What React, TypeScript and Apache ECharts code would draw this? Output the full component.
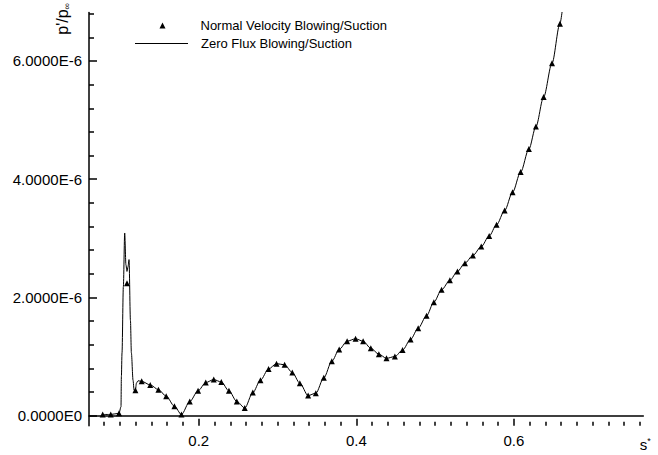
import React, { useEffect, useRef } from "react";
import * as echarts from "echarts";

// Normal Velocity Blowing/Suction (triangles)
const sTri = [
  0.0781, 0.0883, 0.0988, 0.1089, 0.1196, 0.1276, 0.1384, 0.1488, 0.1587, 0.1691,
  0.178, 0.1886, 0.1991, 0.2089, 0.219, 0.2286, 0.2383, 0.2483, 0.2584, 0.2686,
  0.2783, 0.2886, 0.2987, 0.309, 0.3187, 0.3283, 0.3388, 0.3486, 0.3587, 0.3689,
  0.3782, 0.3883, 0.399, 0.4086, 0.4184, 0.4286, 0.4383, 0.4489, 0.4587, 0.4688,
  0.4785, 0.4891, 0.4984, 0.5082, 0.5187, 0.5283, 0.5378, 0.5479, 0.5585, 0.5686,
  0.578, 0.5882, 0.5983, 0.6085, 0.619, 0.6279, 0.6377, 0.6483, 0.6584,
];
const pTri = [
  0.02e-6, 0.02e-6, 0.04e-6, 2.24e-6, 0.43e-6, 0.58e-6, 0.52e-6, 0.44e-6, 0.33e-6, 0.16e-6,
  0.02e-6, 0.24e-6, 0.42e-6, 0.56e-6, 0.61e-6, 0.57e-6, 0.42e-6, 0.24e-6, 0.13e-6, 0.39e-6,
  0.6e-6, 0.79e-6, 0.88e-6, 0.86e-6, 0.73e-6, 0.55e-6, 0.34e-6, 0.38e-6, 0.64e-6, 0.92e-6,
  1.12e-6, 1.26e-6, 1.3e-6, 1.26e-6, 1.14e-6, 1.04e-6, 0.97e-6, 1.0e-6, 1.11e-6, 1.29e-6,
  1.48e-6, 1.69e-6, 1.92e-6, 2.13e-6, 2.29e-6, 2.44e-6, 2.58e-6, 2.71e-6, 2.86e-6, 3.04e-6,
  3.23e-6, 3.47e-6, 3.78e-6, 4.12e-6, 4.51e-6, 4.89e-6, 5.39e-6, 5.96e-6, 6.63e-6,
];

// Zero Flux Blowing/Suction (line)
const sLine = [
  0.0781, 0.0883, 0.0988, 0.1013, 0.1018, 0.1026, 0.1043, 0.106, 0.1076, 0.1089,
  0.1102, 0.1115, 0.1133, 0.1145, 0.1166, 0.1179, 0.1196, 0.1209, 0.1229, 0.1276,
  0.1384, 0.1488, 0.1587, 0.1691, 0.178, 0.1886, 0.1991, 0.2089, 0.219, 0.2286,
  0.2383, 0.2483, 0.2584, 0.2686, 0.2783, 0.2886, 0.2987, 0.309, 0.3187, 0.3283,
  0.3388, 0.3486, 0.3587, 0.3689, 0.3782, 0.3883, 0.399, 0.4086, 0.4184, 0.4286,
  0.4383, 0.4489, 0.4587, 0.4688, 0.4785, 0.4891, 0.4984, 0.5082, 0.5187, 0.5283,
  0.5378, 0.5479, 0.5585, 0.5686, 0.578, 0.5882, 0.5983, 0.6085, 0.619, 0.6279,
  0.6377, 0.6483, 0.6584, 0.6612,
];
const pLine = [
  0.02e-6, 0.02e-6, 0.04e-6, 0.15e-6, 0.66e-6, 1.06e-6, 2.18e-6, 3.09e-6, 2.55e-6, 2.44e-6,
  2.52e-6, 2.64e-6, 1.61e-6, 1.06e-6, 0.6e-6, 0.43e-6, 0.43e-6, 0.55e-6, 0.59e-6, 0.58e-6,
  0.52e-6, 0.44e-6, 0.33e-6, 0.16e-6, 0.02e-6, 0.24e-6, 0.42e-6, 0.56e-6, 0.61e-6, 0.57e-6,
  0.42e-6, 0.24e-6, 0.13e-6, 0.39e-6, 0.6e-6, 0.79e-6, 0.88e-6, 0.86e-6, 0.73e-6, 0.55e-6,
  0.34e-6, 0.38e-6, 0.64e-6, 0.92e-6, 1.12e-6, 1.26e-6, 1.3e-6, 1.26e-6, 1.14e-6, 1.04e-6,
  0.97e-6, 1.0e-6, 1.11e-6, 1.29e-6, 1.48e-6, 1.69e-6, 1.92e-6, 2.13e-6, 2.29e-6, 2.44e-6,
  2.58e-6, 2.71e-6, 2.86e-6, 3.04e-6, 3.23e-6, 3.47e-6, 3.78e-6, 4.12e-6, 4.51e-6, 4.89e-6,
  5.39e-6, 5.96e-6, 6.63e-6, 6.84e-6,
];

// Axis ticks
const xMajorTicks = [0.2, 0.4, 0.6];
const xMinorTicks = [
  0.08, 0.1, 0.12, 0.14, 0.16, 0.18, 0.22, 0.24, 0.26, 0.28, 0.3, 0.32, 0.34, 0.36, 0.38,
  0.42, 0.44, 0.46, 0.48, 0.5, 0.52, 0.54, 0.56, 0.58, 0.62, 0.64, 0.66, 0.68, 0.7, 0.72,
  0.74, 0.76,
];
const yMajorTicks = [0, 2e-6, 4e-6, 6e-6];
const yMinorTicks = [
  0.4e-6, 0.8e-6, 1.2e-6, 1.6e-6, 2.4e-6, 2.8e-6, 3.2e-6, 3.6e-6, 4.4e-6, 4.8e-6, 5.2e-6,
  5.6e-6, 6.4e-6, 6.8e-6,
];

const X_MIN = 0.0607;
const X_MAX = 0.7642;
const Y_MIN = -0.17e-6;
const Y_MAX = 6.82e-6;

const GRID = { left: 89, right: 14.7, top: 12.5, bottom: 29.3 };
const W = 658;
const H = 455;

const FONT = "'Liberation Sans', Arial, Helvetica, sans-serif";
const black = "#000";

export default function App() {
  const ref = useRef<HTMLDivElement>(null);

  useEffect(() => {
    document.body.style.margin = "0";
    const chart = echarts.init(ref.current!, null, { renderer: "svg" });
    const triData = sTri.map((s, i) => [s, pTri[i]]);
    const lineData = sLine.map((s, i) => [s, pLine[i]]);

    const yPerPx = (Y_MAX - Y_MIN) / (H - GRID.top - GRID.bottom);
    const xPerPx = (X_MAX - X_MIN) / (W - GRID.left - GRID.right);
    const xTick = (v: number, len: number) => [
      { coord: [v, Y_MIN] },
      { coord: [v, Y_MIN + len * yPerPx] },
    ];
    const yTick = (v: number, len: number) => [
      { coord: [X_MIN, v] },
      { coord: [X_MIN + len * xPerPx, v] },
    ];
    const tickLines = [
      ...xMajorTicks.map((v) => xTick(v, 7)),
      ...xMinorTicks.map((v) => xTick(v, 4)),
      ...yMajorTicks.map((v) => yTick(v, 8)),
      ...yMinorTicks.map((v) => yTick(v, 5)),
    ];

    chart.setOption({
      animation: false,
      backgroundColor: "#fff",
      textStyle: { fontFamily: FONT, color: black },
      grid: {
        ...GRID,
        containLabel: false,
        outerBoundsMode: "none",
      },
      legend: [
        {
          data: [{ name: "Normal Velocity Blowing/Suction", icon: "triangle" }],
          left: 159.5,
          top: 19,
          padding: 0,
          itemWidth: 6,
          itemHeight: 6,
          selectedMode: false,
          formatter: (name: string) => "{sp| }" + name,
          textStyle: {
            fontSize: 13,
            color: black,
            fontFamily: FONT,
            rich: { sp: { width: 30, fontSize: 13 } },
          },
        },
        {
          data: [{ name: "Zero Flux Blowing/Suction", icon: "rect" }],
          left: 135,
          top: 37,
          padding: 0,
          itemWidth: 53,
          itemHeight: 1,
          selectedMode: false,
          formatter: (name: string) => "{sp| }" + name,
          textStyle: {
            fontSize: 13,
            color: black,
            fontFamily: FONT,
            rich: { sp: { width: 8, fontSize: 13 } },
          },
        },
      ],
      xAxis: {
        type: "value",
        min: X_MIN,
        max: X_MAX,
        position: "bottom",
        name: "{a|s}{b|*}",
        nameLocation: "end",
        nameGap: 2,
        nameTextStyle: {
          fontSize: 15,
          align: "center",
          verticalAlign: "top",
          padding: [21, 0, 0, 0],
          rich: {
            a: { fontSize: 15, fontFamily: FONT, color: black },
            b: { fontSize: 9, fontFamily: FONT, color: black, verticalAlign: "top" },
          },
        },
        axisLine: { show: true, lineStyle: { color: black, width: 1.5 } },
        axisTick: { show: false },
        axisLabel: {
          show: true,
          customValues: xMajorTicks,
          margin: 7,
          fontSize: 15,
          color: black,
          fontFamily: FONT,
          formatter: (v: number) => v.toFixed(1),
        },
        splitLine: { show: false },
      },
      yAxis: {
        type: "value",
        min: Y_MIN,
        max: Y_MAX,
        position: "left",
        name: "{a|p'/p}{b|∞}",
        nameLocation: "end",
        nameRotate: 90,
        nameGap: 9.5,
        nameTextStyle: {
          fontSize: 16,
          align: "right",
          verticalAlign: "bottom",
          padding: [0, 0, 18, 0],
          rich: {
            a: { fontSize: 16, fontFamily: FONT, color: black, lineHeight: 18 },
            b: { fontSize: 9, fontFamily: FONT, color: black, lineHeight: 18, verticalAlign: "bottom" },
          },
        },
        axisLine: { show: true, lineStyle: { color: black, width: 1.5 } },
        axisTick: { show: false },
        axisLabel: {
          show: true,
          customValues: yMajorTicks,
          margin: 7,
          fontSize: 15,
          color: black,
          fontFamily: FONT,
          formatter: (v: number) =>
            Math.abs(v) < 1e-12 ? "0.0000E0" : (v * 1e6).toFixed(4) + "E-6",
        },
        splitLine: { show: false },
      },
      series: [
        {
          name: "Zero Flux Blowing/Suction",
          type: "line",
          data: lineData,
          symbol: "none",
          smooth: 0.3,
          smoothMonotone: "x",
          clip: true,
          lineStyle: { color: black, width: 1 },
          itemStyle: { color: black },
          z: 2,
        },
        {
          name: "Normal Velocity Blowing/Suction",
          type: "scatter",
          data: triData,
          symbol: "triangle",
          symbolSize: 6,
          itemStyle: { color: black, opacity: 1 },
          z: 3,
        },
        {
          name: "axisTicks",
          type: "line",
          data: [],
          silent: true,
          z: 5,
          markLine: {
            silent: true,
            animation: false,
            symbol: ["none", "none"],
            label: { show: false },
            emphasis: { disabled: true },
            lineStyle: { color: black, width: 1.5, type: "solid", opacity: 1 },
            data: tickLines,
          },
        },
      ],
    });

    return () => chart.dispose();
  }, []);

  return <div ref={ref} style={{ width: 658, height: 455 }} />;
}
